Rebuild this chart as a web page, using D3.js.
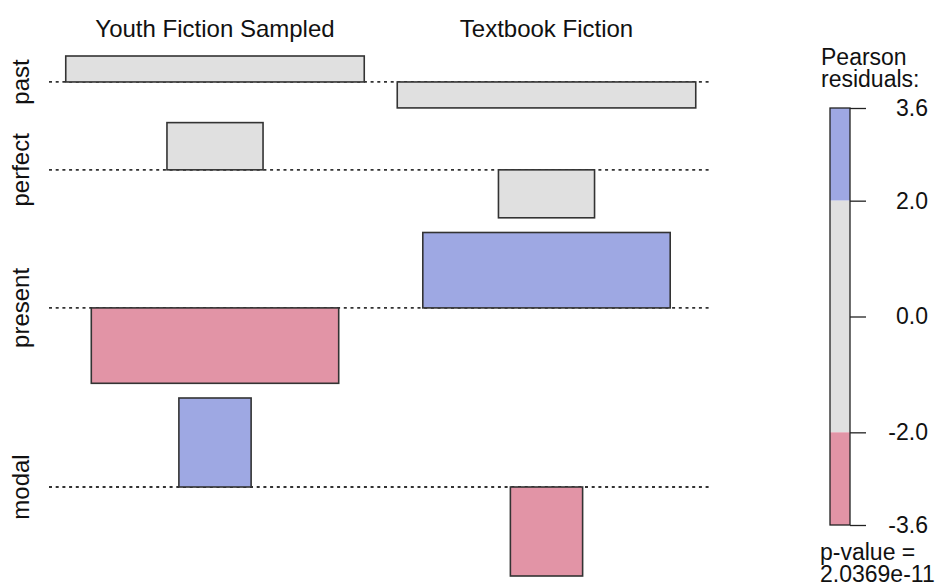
<!DOCTYPE html>
<html>
<head>
<meta charset="utf-8">
<script src="https://cdn.jsdelivr.net/npm/d3@7"></script>
<style>
  body { margin: 0; background: #fff; }
  text { font-family: "Liberation Sans", Arial, Helvetica, sans-serif; fill: #111; }
</style>
</head>
<body>
<div id="chart"></div>
<script>
// tense categories (rows) and corpora (columns)
const tenses = ["past", "perfect", "present", "modal"];
const corpora = ["Youth Fiction Sampled", "Textbook Fiction"];

// Pearson residuals, one array per corpus, same order as tenses
const residYouth = [1.05, 1.91, -3.05, 3.6];
const residTextbook = [-1.05, -1.94, 3.05, -3.6];

// expected counts (bar width ~ sqrt(expected))
const expectedYouth = [444, 46, 305, 26];
const expectedTextbook = [444, 46, 305, 26];

// legend
const legendTicks = [3.6, 2.0, 0.0, -2.0, -3.6];
const legendTitle = ["Pearson", "residuals:"];
const pValueText = ["p-value =", "2.0369e-11"];

const width = 941, height = 587;
const svg = d3.select("#chart").append("svg").attr("width", width).attr("height", height);

const colGrey = "#e0e0e0", colBlue = "#9ea8e3", colPink = "#e294a6";
const fillFor = r => (r > 2 ? colBlue : r < -2 ? colPink : colGrey);

const resid = [residYouth, residTextbook];
const expected = [expectedYouth, expectedTextbook];

// horizontal: column centres and bar widths
const colCenter = d3.scalePoint().domain(corpora).range([215, 546.5]);
const maxSqrt = d3.max(expected.flat(), d => Math.sqrt(d));
const wScale = d3.scaleLinear().domain([0, maxSqrt]).range([0, 298.5]);

// vertical: residual units -> pixels, rows stacked with a gap
const hScale = d3.scaleLinear().domain([0, 3.6]).range([0, 89]);
const rowGap = 14.7;
const plotTop = 56;
let cursor = plotTop;
const baselines = tenses.map((t, i) => {
  const up = d3.max(resid, r => Math.max(r[i], 0));
  const down = d3.max(resid, r => Math.max(-r[i], 0));
  const b = cursor + hScale(up);
  cursor = b + hScale(down) + rowGap;
  return b;
});

const cells = [];
corpora.forEach((c, j) => {
  tenses.forEach((t, i) => {
    cells.push({ corpus: c, tense: t, row: i, r: resid[j][i], e: expected[j][i] });
  });
});

// dotted baselines
svg.append("g")
  .selectAll("line")
  .data(tenses)
  .join("line")
  .attr("x1", 49)
  .attr("x2", 712)
  .attr("y1", (d, i) => baselines[i])
  .attr("y2", (d, i) => baselines[i])
  .attr("stroke", "#333")
  .attr("stroke-width", 1.8)
  .attr("stroke-dasharray", "3,3.7");

// residual bars
svg.append("g")
  .selectAll("rect")
  .data(cells)
  .join("rect")
  .attr("x", d => colCenter(d.corpus) - wScale(Math.sqrt(d.e)) / 2)
  .attr("width", d => wScale(Math.sqrt(d.e)))
  .attr("y", d => (d.r > 0 ? baselines[d.row] - hScale(d.r) : baselines[d.row]))
  .attr("height", d => hScale(Math.abs(d.r)))
  .attr("fill", d => fillFor(d.r))
  .attr("stroke", "#333")
  .attr("stroke-width", 1.6);

// column headers
svg.append("g")
  .selectAll("text")
  .data(corpora)
  .join("text")
  .attr("x", d => colCenter(d))
  .attr("y", 37)
  .attr("text-anchor", "middle")
  .attr("font-size", 24)
  .text(d => d);

// row labels
svg.append("g")
  .selectAll("text")
  .data(tenses)
  .join("text")
  .attr("transform", (d, i) => `translate(29,${baselines[i]}) rotate(-90)`)
  .attr("text-anchor", "middle")
  .attr("font-size", 24)
  .text(d => d);

// legend
const legY = d3.scaleLinear().domain([3.6, -3.6]).range([108, 525]);
const lx = 830, lw = 20;
const legBands = [[3.6, 2.0, colBlue], [2.0, -2.0, colGrey], [-2.0, -3.6, colPink]];
const leg = svg.append("g");
leg.selectAll("rect.band")
  .data(legBands)
  .join("rect")
  .attr("class", "band")
  .attr("x", lx)
  .attr("width", lw)
  .attr("y", d => legY(d[0]))
  .attr("height", d => legY(d[1]) - legY(d[0]))
  .attr("fill", d => d[2]);
leg.append("rect")
  .attr("x", lx)
  .attr("y", legY(3.6))
  .attr("width", lw)
  .attr("height", legY(-3.6) - legY(3.6))
  .attr("fill", "none")
  .attr("stroke", "#222")
  .attr("stroke-width", 1.3);
const legAxis = d3.axisRight(legY)
  .tickValues(legendTicks)
  .tickSize(16)
  .tickFormat(d => d.toFixed(1));
const axG = leg.append("g").attr("transform", `translate(${lx + lw},0)`).call(legAxis);
axG.select(".domain").remove();
axG.selectAll(".tick line").attr("stroke", "#222").attr("stroke-width", 1.3);
axG.selectAll(".tick text")
  .attr("x", 78)
  .attr("text-anchor", "end")
  .attr("font-size", 23)
  .attr("font-family", "Liberation Sans, Arial, sans-serif")
  .attr("fill", "#111");

leg.selectAll("text.title")
  .data(legendTitle)
  .join("text")
  .attr("class", "title")
  .attr("x", 821)
  .attr("y", (d, i) => 65 + i * 22)
  .attr("font-size", 23)
  .text(d => d);

leg.selectAll("text.pval")
  .data(pValueText)
  .join("text")
  .attr("class", "pval")
  .attr("x", 820)
  .attr("y", (d, i) => 560 + i * 22)
  .attr("font-size", 23)
  .text(d => d);
</script>
</body>
</html>
